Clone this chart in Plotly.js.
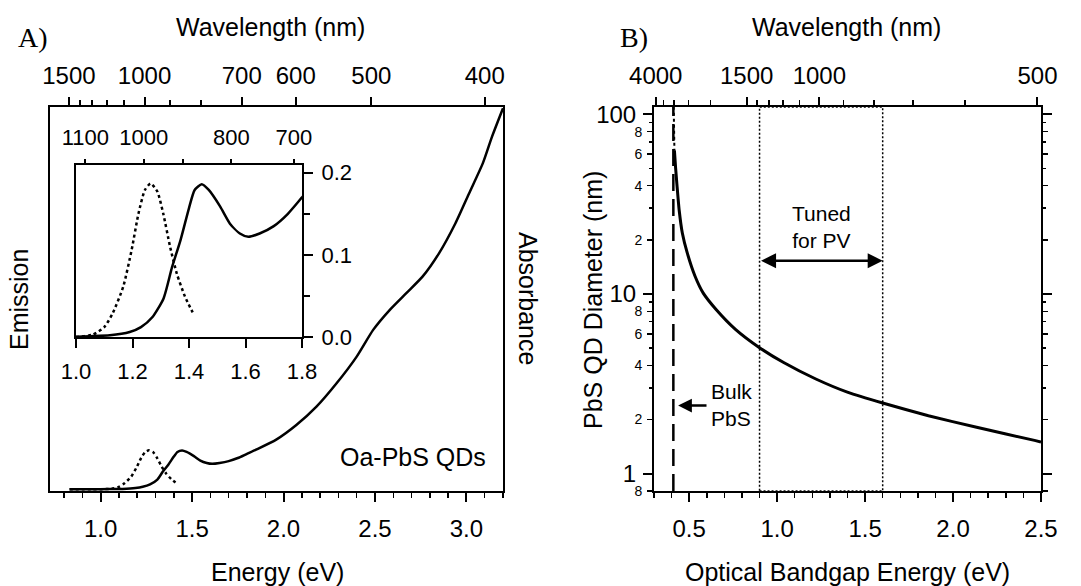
<!DOCTYPE html>
<html><head><meta charset="utf-8">
<script src="https://cdn.plot.ly/plotly-3.0.1.min.js"></script>
<style>html,body{margin:0;padding:0;background:#fff}#chart{width:1081px;height:586px}</style>
</head><body><div id="chart"></div>
<script>
// ---------- Panel A: Oa-PbS QDs ----------
const absEnergy = [0.83, 0.95, 1.05, 1.12, 1.19, 1.23, 1.27, 1.31, 1.34, 1.37, 1.40, 1.42, 1.445, 1.47, 1.51, 1.545, 1.58, 1.61, 1.65, 1.70, 1.75, 1.80, 1.85, 1.96, 2.07, 2.18, 2.29, 2.40, 2.49, 2.58, 2.67, 2.76, 2.85, 2.94, 3.015, 3.09, 3.14, 3.20];
const absValue  = [0.000, 0.000, 0.001, 0.002, 0.006, 0.012, 0.024, 0.047, 0.085, 0.118, 0.157, 0.179, 0.186, 0.179, 0.159, 0.138, 0.126, 0.122, 0.126, 0.135, 0.150, 0.170, 0.190, 0.238, 0.308, 0.396, 0.508, 0.636, 0.764, 0.859, 0.939, 1.019, 1.131, 1.275, 1.419, 1.563, 1.690, 1.826];
const emEnergy  = [0.83, 0.95, 1.00, 1.06, 1.10, 1.13, 1.167, 1.197, 1.221, 1.244, 1.264, 1.288, 1.309, 1.333, 1.357, 1.386, 1.413];
const emValue   = [0.000, 0.000, 0.000, 0.003, 0.012, 0.029, 0.061, 0.106, 0.150, 0.179, 0.187, 0.177, 0.150, 0.110, 0.077, 0.049, 0.030];
const sampleLabel = 'Oa-PbS QDs';

// top wavelength axis (nm) of panel A
const wlMajorA = [1500, 1000, 700, 600, 500, 400];
const wlMinorA = [1400, 1300, 1200, 1100, 900, 800];
// inset top wavelength axis (labels as printed)
const wlInsetPos  = [1200, 1000, 800, 700];
const wlInsetText = ['1100', '1000', '800', '700'];
const wlInsetMinor = [900];
const insetYTicks = [0.0, 0.1, 0.2];
const insetYMinor = [0.05, 0.15];

// ---------- Panel B: PbS QD size vs bandgap ----------
const bgEnergy   = [0.416, 0.423, 0.430, 0.443, 0.461, 0.489, 0.534, 0.580, 0.653, 0.763, 0.900, 1.037, 1.220, 1.403, 1.600, 1.860, 2.134, 2.463, 2.500];
const qdDiameter = [63, 50, 41, 29.3, 21.8, 16.9, 12.5, 10.1, 8.19, 6.35, 5.02, 4.15, 3.36, 2.83, 2.47, 2.10, 1.81, 1.53, 1.50];
const bgTopEnergy = [0.412, 0.416];
const bgTopDiam   = [110, 63];
const bulkGap = 0.41;          // eV, bulk PbS
const pvWindow = [0.9, 1.6];   // eV, tuned for PV
const wlMajorB = [4000, 1500, 1000, 500];
const wlMinorB = [3500, 3000, 2500, 2000, 1400, 1300, 1200, 1100, 900, 800, 700, 600];
const dMajor = [1, 10, 100];
const dMajorText = ['1', '10', '100'];
const dMid = [0.8, 2, 4, 6, 8, 20, 40, 60, 80];
const dMidText = ['8', '2', '4', '6', '8', '2', '4', '6', '8'];
const dMinor = [3, 5, 7, 9, 30, 50, 70, 90];

const toE = wl => wl.map(v => 1240 / v);
const F = 'Liberation Sans, Arial, sans-serif';
const W = 1081, H = 586;
const px = v => v / W, py = v => (H - v) / H;
const TF = {family: F, size: 24, color: '#000'};
const IF = {family: F, size: 22, color: '#000'};

const axBase = {showgrid: false, zeroline: false, color: '#000', linecolor: '#000', tickcolor: '#000',
                linewidth: 2, tickwidth: 2, ticks: 'outside', tickfont: TF};
const solid = w => ({color: '#000', width: w, shape: 'spline', smoothing: 0.6});
const dotted = w => ({color: '#000', width: w, dash: 'dot', shape: 'spline', smoothing: 0.6});

const traces = [
  {x: absEnergy, y: absValue, xaxis: 'x3', yaxis: 'y', mode: 'lines', line: solid(2.5), hoverinfo: 'skip'},
  {x: emEnergy, y: emValue, xaxis: 'x', yaxis: 'y', mode: 'lines', line: dotted(2.5), hoverinfo: 'skip'},
  {x: absEnergy, y: absValue, xaxis: 'x6', yaxis: 'y5', mode: 'lines', line: solid(2.5), hoverinfo: 'skip'},
  {x: emEnergy, y: emValue, xaxis: 'x5', yaxis: 'y5', mode: 'lines', line: dotted(2.5), hoverinfo: 'skip'},
  {x: bgEnergy, y: qdDiameter, xaxis: 'x4', yaxis: 'y2', mode: 'lines', line: {color: '#000', width: 3, shape: 'spline', smoothing: 0.5}, hoverinfo: 'skip'},
  {x: bgTopEnergy, y: bgTopDiam, xaxis: 'x2', yaxis: 'y3', mode: 'lines', line: {color: '#000', width: 2, dash: 'dot'}, hoverinfo: 'skip'}
];

const yDom = [py(491), py(107)];
const layout = {
  width: W, height: H, margin: {l: 0, r: 0, t: 0, b: 0}, showlegend: false,
  paper_bgcolor: '#fff', plot_bgcolor: 'rgba(0,0,0,0)',
  xaxis: Object.assign({}, axBase, {domain: [px(50), px(503)], anchor: 'y', range: [0.723, 3.2], tickmode: 'linear', tick0: 0, dtick: 0.5,
    tickformat: '.1f', ticklen: 9, mirror: true, ticklabelstandoff: 6,
    minor: {dtick: 0.1, tick0: 0, ticks: 'outside', ticklen: 5, tickwidth: 1.5, tickcolor: '#000'}}),
  yaxis: Object.assign({}, axBase, {domain: yDom, anchor: 'x', range: [-0.008, 1.832], ticks: '', showticklabels: false, mirror: true}),
  xaxis3: Object.assign({}, axBase, {overlaying: 'x', side: 'top', anchor: 'y', range: [0.723, 3.2], showline: false,
    tickmode: 'array', tickvals: toE(wlMajorA), ticktext: wlMajorA.map(String), ticklen: 9, ticklabelstandoff: 3,
    minor: {tickmode: 'array', tickvals: toE(wlMinorA), ticks: 'outside', ticklen: 6, tickwidth: 1.5, tickcolor: '#000'}}),
  xaxis5: Object.assign({}, axBase, {domain: [px(76), px(302)], anchor: 'y5', range: [1.0, 1.8], tickmode: 'linear', tick0: 1.0, dtick: 0.2,
    tickformat: '.1f', ticklen: 9, mirror: true, ticklabelstandoff: 5, tickfont: IF}),
  yaxis5: Object.assign({}, axBase, {domain: [py(337), py(165)], anchor: 'x5', side: 'right', range: [0, 0.2094], mirror: true,
    tickmode: 'array', tickvals: insetYTicks, ticktext: insetYTicks.map(v => v.toFixed(1)), ticklen: 9, ticklabelstandoff: 4,
    tickfont: IF,
    minor: {tickmode: 'array', tickvals: insetYMinor, ticks: 'outside', ticklen: 6, tickwidth: 1.5, tickcolor: '#000'}}),
  xaxis6: Object.assign({}, axBase, {overlaying: 'x5', side: 'top', anchor: 'y5', range: [1.0, 1.8], showline: false,
    tickmode: 'array', tickvals: toE(wlInsetPos), ticktext: wlInsetText, ticklen: 5, ticklabelstandoff: 5,
    tickfont: IF,
    minor: {tickmode: 'array', tickvals: toE(wlInsetMinor), ticks: 'outside', ticklen: 5, tickwidth: 2, tickcolor: '#000'}}),
  xaxis2: Object.assign({}, axBase, {domain: [px(654), px(1041)], anchor: 'y2', range: [0.3, 2.5], tickmode: 'linear', tick0: 0, dtick: 0.5,
    tickformat: '.1f', ticklen: 9, mirror: true, ticklabelstandoff: 6,
    minor: {dtick: 0.1, tick0: 0, ticks: 'outside', ticklen: 5, tickwidth: 1.5, tickcolor: '#000'}}),
  yaxis2: Object.assign({}, axBase, {domain: yDom, anchor: 'x2', type: 'log', range: [Math.log10(0.8), 2.04], mirror: 'ticks',
    tickmode: 'array', tickvals: dMajor, ticktext: dMajorText, ticklen: 9, ticklabelstandoff: 2}),
  yaxis3: Object.assign({}, axBase, {overlaying: 'y2', anchor: 'x2', type: 'log', range: [Math.log10(0.8), 2.04], showline: false, mirror: 'ticks',
    tickmode: 'array', tickvals: dMid, ticktext: dMidText, ticklen: 6, tickwidth: 1.5, ticklabelstandoff: 2,
    tickfont: {family: F, size: 14, color: '#000'},
    minor: {tickmode: 'array', tickvals: dMinor, ticks: 'outside', ticklen: 4, tickwidth: 1.5, tickcolor: '#000'}}),
  xaxis4: Object.assign({}, axBase, {overlaying: 'x2', side: 'top', anchor: 'y2', range: [0.3, 2.5], showline: false,
    tickmode: 'array', tickvals: toE(wlMajorB), ticktext: wlMajorB.map(String), ticklen: 9, ticklabelstandoff: 3,
    minor: {tickmode: 'array', tickvals: toE(wlMinorB), ticks: 'outside', ticklen: 6, tickwidth: 1.5, tickcolor: '#000'}}),
  shapes: [
    {type: 'line', xref: 'x2', yref: 'y2 domain', x0: bulkGap, x1: bulkGap, y0: 0, y1: 1, line: {color: '#000', width: 2.5, dash: '17px,8px'}},
    {type: 'rect', xref: 'x2', yref: 'y2 domain', x0: pvWindow[0], x1: pvWindow[1], y0: 0, y1: 1, line: {color: '#000', width: 1.5, dash: '2px,2px'}}
  ],
  annotations: [
    {x: px(270), y: py(27), text: 'Wavelength (nm)', font: {family: F, size: 25, color: '#000'}},
    {x: px(846), y: py(27), text: 'Wavelength (nm)', font: {family: F, size: 25, color: '#000'}},
    {x: px(277), y: py(572), text: 'Energy (eV)', font: {family: F, size: 25, color: '#000'}},
    {x: px(847), y: py(572), text: 'Optical Bandgap Energy (eV)', font: {family: F, size: 25, color: '#000'}},
    {x: px(19), y: py(300), text: 'Emission', textangle: -90, font: {family: F, size: 25, color: '#000'}},
    {x: px(528), y: py(298), text: 'Absorbance', textangle: 90, font: {family: F, size: 25, color: '#000'}},
    {x: px(593), y: py(300), text: 'PbS QD Diameter (nm)', textangle: -90, font: {family: F, size: 25, color: '#000'}},
    {x: px(33), y: py(38), text: 'A)', font: {family: 'Liberation Serif, Times New Roman, serif', size: 28, color: '#000'}},
    {x: px(634), y: py(38), text: 'B)', font: {family: 'Liberation Serif, Times New Roman, serif', size: 28, color: '#000'}}
  ].map(a => Object.assign({xref: 'paper', yref: 'paper', xanchor: 'center', yanchor: 'middle', showarrow: false}, a)).concat([
    {xref: 'x', yref: 'y', x: 3.118, y: 0.156, xanchor: 'right', yanchor: 'middle', text: sampleLabel, showarrow: false, font: {family: F, size: 25, color: '#000'}},
    {xref: 'x2', yref: 'y2', x: (pvWindow[0] + pvWindow[1]) / 2, y: Math.log10(23.5), xanchor: 'center', yanchor: 'middle', text: 'Tuned<br>for PV', showarrow: false, font: {family: F, size: 21, color: '#000'}},
    {xref: 'x2', yref: 'y2', axref: 'x2', ayref: 'y2', x: pvWindow[1], y: Math.log10(15.3), ax: pvWindow[0], ay: Math.log10(15.3), text: '',
      showarrow: true, arrowside: 'end+start', arrowhead: 2, startarrowhead: 2, arrowsize: 1.2, startarrowsize: 1.2, arrowwidth: 2.5, arrowcolor: '#000', standoff: 0, startstandoff: 0},
    {xref: 'x2', yref: 'y2', axref: 'x2', ayref: 'y2', x: bulkGap + 0.027, y: Math.log10(2.39), ax: 0.607, ay: Math.log10(2.39), text: '',
      showarrow: true, arrowhead: 2, arrowsize: 1.1, arrowwidth: 2.5, arrowcolor: '#000'},
    {xref: 'x2', yref: 'y2', x: 0.615, y: Math.log10(2.41), xanchor: 'left', yanchor: 'middle', align: 'left', text: 'Bulk<br>PbS', showarrow: false, font: {family: F, size: 21, color: '#000'}}
  ])
};

Plotly.newPlot('chart', traces, layout, {staticPlot: true, displayModeBar: false});
</script>
</body></html>
